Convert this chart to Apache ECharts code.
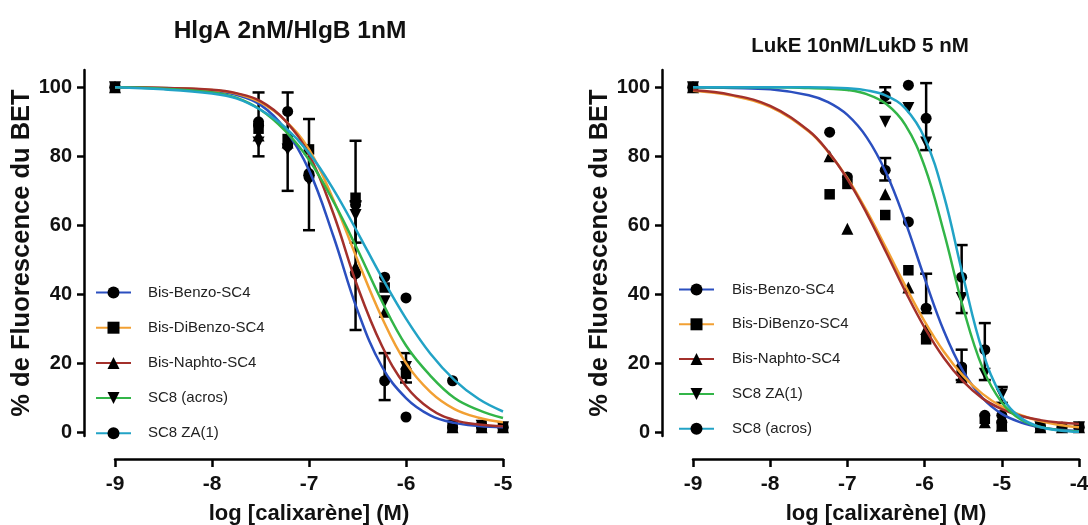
<!DOCTYPE html>
<html><head><meta charset="utf-8">
<script src="https://cdn.jsdelivr.net/npm/echarts@6/dist/echarts.min.js"></script>
<style>html,body{margin:0;padding:0;background:#fff}#c{width:1088px;height:525px}</style>
</head><body><div id="c"></div>
<script>
// ---------- data ----------
const titleLeft = 'HlgA 2nM/HlgB 1nM';
const titleRight = 'LukE 10nM/LukD 5 nM';
const yName = '% de Fluorescence du BET';
const xName = 'log [calixarène] (M)';
const yTicks = [0, 20, 40, 60, 80, 100];
const xTicksLeft = [-9, -8, -7, -6, -5];
const xTicksRight = [-9, -8, -7, -6, -5, -4];

const namesLeft = ['Bis-Benzo-SC4', 'Bis-DiBenzo-SC4', 'Bis-Naphto-SC4', 'SC8 (acros)', 'SC8 ZA(1)'];
const namesRight = ['Bis-Benzo-SC4', 'Bis-DiBenzo-SC4', 'Bis-Naphto-SC4', 'SC8 ZA(1)', 'SC8 (acros)'];
const colorsLeft = ['#2b4fbf', '#f2a033', '#a3302b', '#32b548', '#22a3c6'];
const colorsRight = ['#2b4fbf', '#f2a033', '#a3302b', '#32b548', '#22a3c6'];
const DOWN = 'path://M0,0L10,0L5,9Z';
const symbolsLeft = ['circle', 'rect', 'triangle', DOWN, 'circle'];
const symbolsRight = ['circle', 'rect', 'triangle', DOWN, 'circle'];

// fitted curves, read at these x positions
const curveXLeft = [-9, -8.5, -8, -7.75, -7.5, -7.25, -7, -6.75, -6.5, -6.25, -6, -5.75, -5.5, -5.25, -5];
const curveBenzoL   = [100, 99.8, 99.0, 97.8, 94.9, 88.0, 76.0, 57.0, 35.4, 19.2, 10.0, 5.0, 2.8, 1.9, 1.5];
const curveDiBenzoL = [100, 99.8, 99.2, 98.2, 95.6, 90.5, 82.0, 67.5, 50.0, 33.4, 20.1, 11.8, 6.8, 4.3, 3.0];
const curveNaphtoL  = [100, 99.8, 99.3, 98.3, 96.0, 90.5, 80.5, 63.5, 42.3, 25.2, 13.4, 6.8, 3.6, 2.3, 1.8];
const curveAcrosL   = [100, 99.6, 98.5, 97.0, 93.5, 87.5, 79.0, 67.0, 53.0, 38.1, 25.2, 16.5, 10.0, 6.5, 4.2];
const curveZAL      = [100, 99.4, 98.2, 96.8, 93.5, 88.5, 81.0, 70.5, 58.0, 45.0, 33.0, 22.9, 15.2, 9.7, 6.1];

const curveXRight = [-9, -8.5, -8, -7.5, -7.25, -7, -6.75, -6.5, -6.25, -6, -5.75, -5.5, -5.25, -5, -4.75, -4.5, -4.25, -4];
const curveBenzoR   = [100, 99.8, 99.4, 97.7, 95.7, 92.0, 85.5, 75.3, 61.1, 44.7, 29.4, 17.7, 10.0, 5.4, 2.9, 1.5, 0.8, 0.4];
const curveDiBenzoR = [99.0, 97.6, 94.3, 87.2, 81.3, 73.7, 64.2, 53.5, 42.5, 32.2, 23.4, 16.4, 11.2, 7.5, 5.0, 3.3, 2.2, 1.5];
const curveNaphtoR  = [99.1, 97.8, 94.6, 87.4, 81.4, 73.4, 63.5, 52.3, 40.9, 30.4, 21.6, 14.8, 9.9, 6.8, 4.8, 3.6, 2.9, 2.5];
const curveZAR      = [100, 100, 100, 99.8, 99.6, 99.2, 98.0, 95.2, 89.1, 77.1, 58.0, 36.1, 18.8, 8.7, 3.7, 1.6, 0.7, 0.3];
const curveAcrosR   = [100, 100, 100, 100, 99.9, 99.7, 99.1, 97.6, 93.9, 85.3, 68.6, 45.1, 23.6, 10.4, 4.2, 1.6, 0.6, 0.2];

// measured points [x, y]
const ptsBenzoL   = [[-9, 100], [-7.52, 90], [-7.22, 83], [-7.0, 74], [-6.52, 46], [-6.22, 15], [-6.0, 4.5], [-5.52, 1.5], [-5.22, 1.5], [-5, 1.5]];
const ptsDiBenzoL = [[-9, 100], [-7.52, 88], [-7.22, 85], [-7.0, 82], [-6.52, 68], [-6.22, 42], [-6.0, 17], [-5.52, 1.5], [-5.22, 1.5], [-5, 1.5]];
const ptsNaphtoL  = [[-9, 100], [-7.52, 86], [-7.22, 84], [-7.0, 76], [-6.52, 48], [-6.22, 35], [-6.0, 20], [-5.52, 1.5], [-5.22, 1.5], [-5, 1.5]];
const ptsAcrosL   = [[-9, 100], [-7.52, 84], [-7.22, 82], [-7.0, 73], [-6.52, 63], [-6.22, 38], [-6.0, 19], [-5.52, 2], [-5.22, 2], [-5, 1.5]];
const ptsZAL      = [[-9, 100], [-7.52, 89], [-7.22, 93], [-7.0, 75], [-6.52, 66], [-6.22, 45], [-6.0, 39], [-5.52, 15], [-5.22, 2], [-5, 1.5]];
// error bars [x, low, high]
const errLeft = [[-7.52, 80, 98.5], [-7.22, 70, 98.5], [-7.0, 58.6, 90.8], [-6.52, 29.7, 84.5], [-6.52, 55, 67], [-6.22, 9.4, 23], [-6.0, 14.5, 23]];

const ptsBenzoR   = [[-9, 100], [-7.23, 87], [-7.0, 74], [-6.51, 76], [-6.21, 61], [-5.98, 36], [-5.52, 19], [-5.22, 5], [-5, 3], [-4.5, 1.5], [-4.22, 1.5], [-4, 1.5]];
const ptsDiBenzoR = [[-9, 100], [-7.23, 69], [-7.0, 72], [-6.51, 63], [-6.21, 47], [-5.98, 27], [-5.52, 18], [-5.22, 4], [-5, 2], [-4.5, 1.5], [-4.22, 1.5], [-4, 1.5]];
const ptsNaphtoR  = [[-9, 100], [-7.23, 80], [-7.0, 59], [-6.51, 69], [-6.21, 42], [-5.98, 30], [-5.52, 16], [-5.22, 3], [-5, 2], [-4.5, 1.5], [-4.22, 1.5], [-4, 1.5]];
const ptsZAR      = [[-9, 100], [-6.51, 90], [-6.21, 94], [-5.98, 84], [-5.52, 39], [-5.22, 17], [-5, 11], [-4.5, 1.5], [-4, 1.5]];
const ptsAcrosR   = [[-9, 100], [-6.51, 97.5], [-6.21, 100.6], [-5.98, 91], [-5.52, 45], [-5.22, 24], [-5, 5], [-4.5, 1.5], [-4, 1.5]];
const errRight = [[-6.51, 95.5, 100], [-6.51, 73, 79.5], [-5.98, 81.8, 101.2], [-5.98, 34.6, 46], [-5.52, 34.6, 54.3], [-5.52, 15.2, 24], [-5.22, 15.2, 31.7], [-5, 8.6, 13.2]];

// ---------- chart ----------
const FONT = '"Liberation Sans", Arial, sans-serif';
const chart = echarts.init(document.getElementById('c'), null, {renderer: 'canvas'});

function zip(xs, ys) { return xs.map((x, i) => [x, ys[i]]); }

function xAxisCfg(gi, ticks) {
  return {
    type: 'value', gridIndex: gi, min: ticks[0], max: ticks[ticks.length - 1], interval: 1,
    offset: 23, name: xName, nameLocation: 'middle', nameGap: 44,
    nameTextStyle: {fontFamily: FONT, fontWeight: 'bold', fontSize: 22, color: '#111'},
    axisLine: {onZero: false, lineStyle: {color: '#000', width: 2.5}},
    axisTick: {length: 8, lineStyle: {color: '#000', width: 2.5}},
    axisLabel: {fontFamily: FONT, fontWeight: 'bold', fontSize: 21, color: '#111', margin: 15},
    splitLine: {show: false}
  };
}
function yAxisCfg(gi) {
  return {
    type: 'value', gridIndex: gi, min: -1, max: 105,
    offset: 31, name: yName, nameLocation: 'middle', nameGap: 47,
    nameTextStyle: {fontFamily: FONT, fontWeight: 'bold', fontSize: 25.5, color: '#111'},
    axisLine: {show: true, onZero: false, lineStyle: {color: '#000', width: 2.5}},
    axisTick: {show: true, length: 7, customValues: yTicks, lineStyle: {color: '#000', width: 2.5}},
    axisLabel: {fontFamily: FONT, fontWeight: 'bold', fontSize: 20, color: '#111', margin: 12, customValues: yTicks},
    splitLine: {show: false}
  };
}

function errRender(params, api) {
  const x = api.value(0), lo = api.value(1), hi = api.value(2);
  const a = api.coord([x, lo]), b = api.coord([x, hi]);
  const w = 6;
  const st = {stroke: '#000', lineWidth: 2.5};
  return {type: 'group', children: [
    {type: 'line', shape: {x1: a[0], y1: a[1], x2: b[0], y2: b[1]}, style: st},
    {type: 'line', shape: {x1: a[0] - w, y1: a[1], x2: a[0] + w, y2: a[1]}, style: st},
    {type: 'line', shape: {x1: b[0] - w, y1: b[1], x2: b[0] + w, y2: b[1]}, style: st}
  ]};
}

const series = [];
function symSize(s) { return s === 'rect' ? 10.5 : (s === 'circle' ? 11 : 12); }
function addChart(gi, names, colors, symbols, curveX, curves, pts, errs, prefix) {
  series.push({type: 'custom', name: prefix + 'err', xAxisIndex: gi, yAxisIndex: gi, data: errs,
    renderItem: errRender, encode: {x: 0, y: [1, 2]}, z: 1, silent: true});
  names.forEach((n, i) => {
    series.push({type: 'scatter', name: prefix + 'pts' + i, xAxisIndex: gi, yAxisIndex: gi, data: pts[i],
      symbol: symbols[i], symbolSize: symSize(symbols[i]),
      itemStyle: {color: '#000', opacity: 1}, z: 2, silent: true});
  });
  names.forEach((n, i) => {
    series.push({type: 'line', name: prefix + n, xAxisIndex: gi, yAxisIndex: gi, data: zip(curveX, curves[i]),
      smooth: 0.4, symbol: symbols[i], showSymbol: false, itemStyle: {color: '#000'},
      lineStyle: {color: colors[i], width: 2.5}, z: 3, silent: true, clip: true});
  });
}
addChart(0, namesLeft, colorsLeft, symbolsLeft, curveXLeft,
  [curveBenzoL, curveDiBenzoL, curveNaphtoL, curveAcrosL, curveZAL],
  [ptsBenzoL, ptsDiBenzoL, ptsNaphtoL, ptsAcrosL, ptsZAL], errLeft, 'L:');
addChart(1, namesRight, colorsRight, symbolsRight, curveXRight,
  [curveBenzoR, curveDiBenzoR, curveNaphtoR, curveZAR, curveAcrosR],
  [ptsBenzoR, ptsDiBenzoR, ptsNaphtoR, ptsZAR, ptsAcrosR], errRight, 'R:');

function legendCfg(left, top, names, prefix, pad, gap) {
  return {
    orient: 'vertical', left: left, top: top, itemWidth: 35, itemHeight: 15, itemGap: gap,
    data: names.map(n => prefix + n), selectedMode: false,
    formatter: s => s.slice(2),
    textStyle: {fontFamily: FONT, fontSize: 15, color: '#222', padding: [0, 0, 0, pad]}
  };
}

chart.setOption({
  backgroundColor: '#fff',
  animation: false,
  title: [
    {text: titleLeft, left: 285, top: 13.5, textAlign: 'center',
      textStyle: {fontFamily: FONT, fontWeight: 'bold', fontSize: 24.5, color: '#111'}},
    {text: titleRight, left: 855, top: 31, textAlign: 'center',
      textStyle: {fontFamily: FONT, fontWeight: 'bold', fontSize: 20.5, color: '#111'}}
  ],
  grid: [
    {left: 115, top: 70, width: 388, height: 366, outerBoundsMode: 'none', containLabel: false},
    {left: 693, top: 70, width: 386, height: 366, outerBoundsMode: 'none', containLabel: false}
  ],
  xAxis: [xAxisCfg(0, xTicksLeft), xAxisCfg(1, xTicksRight)],
  yAxis: [yAxisCfg(0), yAxisCfg(1)],
  legend: [legendCfg(90, 280, namesLeft, 'L:', 12, 20.2), legendCfg(673, 277, namesRight, 'R:', 13, 19.8)],
  series: series
});
</script></body></html>
